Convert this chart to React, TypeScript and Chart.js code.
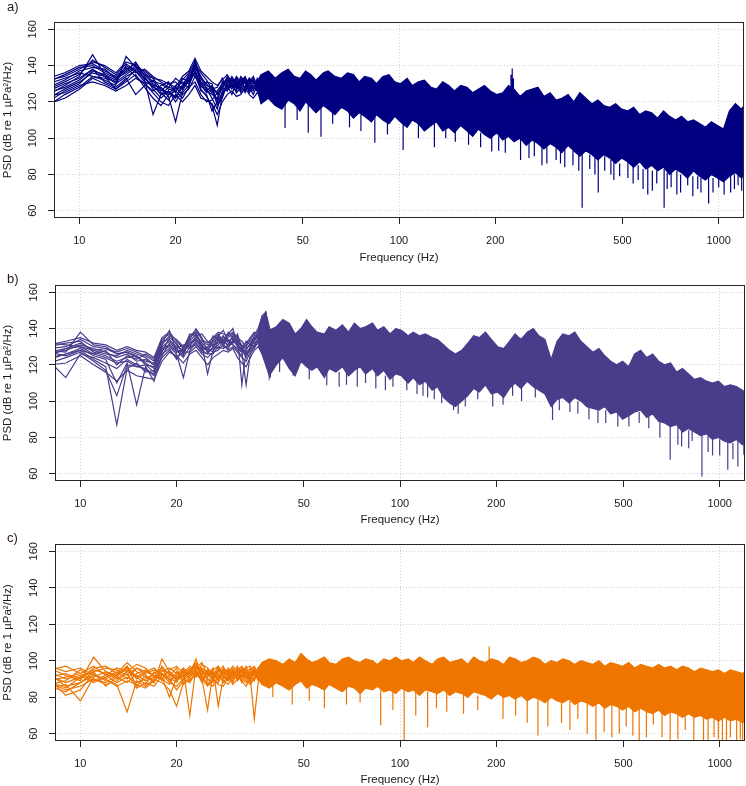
import React, { useEffect, useRef } from "react";
import { Chart, registerables } from "chart.js";
Chart.register(...registerables);

// ---------- axes ----------
const xTicks = [10, 20, 50, 100, 200, 500, 1000];
const xGridValues = [10, 100, 1000];
const yTicks = [60, 80, 100, 120, 140, 160];

// ---------- low-frequency individual spectra (Hz) ----------
const lowFreq = [8, 9, 10, 11, 12, 13, 14, 15, 16, 17, 18, 19, 20, 21, 22, 23, 24, 25, 26, 27, 28, 29, 30, 31, 32, 33, 34, 35, 36, 37, 38, 39, 40];

const aLow = [
  [131, 135, 139, 140, 136, 133, 138, 141, 136, 131, 130, 127, 126, 129, 132, 140, 131, 128, 125, 126, 130, 133, 129, 134, 131, 128, 133, 130, 132, 129, 134, 131, 128],
  [124, 129, 134, 146, 135, 130, 134, 137, 133, 128, 126, 130, 131, 127, 133, 136, 129, 125, 127, 121, 128, 131, 132, 127, 130, 133, 129, 127, 131, 133, 128, 126, 132],
  [118, 124, 128, 134, 132, 129, 145, 139, 133, 129, 124, 128, 127, 131, 130, 143, 133, 127, 122, 116, 126, 129, 134, 130, 128, 126, 131, 134, 129, 127, 131, 133, 127],
  [128, 132, 137, 139, 138, 133, 136, 140, 132, 113, 124, 126, 122, 128, 134, 138, 127, 123, 118, 107, 124, 128, 131, 132, 126, 129, 132, 128, 127, 131, 126, 129, 133],
  [122, 127, 131, 136, 134, 127, 132, 138, 135, 130, 127, 123, 109, 125, 129, 137, 130, 126, 124, 122, 131, 127, 129, 126, 133, 130, 127, 131, 128, 125, 130, 134, 129],
  [133, 136, 140, 141, 137, 134, 139, 134, 130, 126, 129, 131, 125, 133, 131, 139, 134, 129, 128, 125, 127, 134, 130, 129, 131, 134, 128, 126, 133, 130, 127, 132, 135],
  [126, 130, 133, 138, 131, 128, 133, 124, 129, 132, 125, 121, 128, 124, 127, 134, 128, 131, 130, 118, 122, 130, 127, 133, 129, 125, 130, 132, 126, 128, 133, 127, 130],
  [130, 133, 136, 134, 133, 131, 140, 136, 138, 134, 131, 128, 133, 130, 128, 141, 136, 132, 127, 128, 133, 126, 132, 128, 134, 131, 126, 129, 130, 134, 129, 131, 126],
  [120, 126, 130, 137, 135, 132, 137, 142, 134, 127, 122, 126, 120, 126, 132, 135, 126, 124, 115, 120, 125, 129, 124, 131, 127, 132, 128, 124, 129, 126, 132, 128, 131],
  [127, 131, 135, 143, 139, 135, 141, 137, 131, 129, 128, 124, 129, 132, 136, 142, 130, 126, 129, 124, 129, 132, 128, 130, 125, 127, 133, 131, 127, 132, 128, 130, 134],
  [125, 128, 132, 138, 134, 131, 135, 139, 137, 133, 127, 125, 123, 129, 135, 140, 133, 130, 126, 119, 123, 131, 133, 129, 132, 127, 130, 133, 129, 132, 127, 131, 129],
  [119, 122, 127, 133, 130, 127, 131, 135, 128, 122, 118, 124, 126, 122, 128, 131, 124, 120, 121, 125, 128, 126, 130, 125, 128, 131, 125, 128, 126, 130, 131, 125, 128],
  [132, 134, 138, 142, 140, 136, 142, 140, 135, 133, 132, 130, 128, 134, 137, 144, 137, 134, 131, 129, 132, 135, 131, 133, 129, 133, 131, 127, 131, 128, 130, 133, 130],
  [123, 125, 129, 131, 129, 126, 129, 133, 130, 125, 120, 118, 124, 120, 124, 129, 122, 121, 119, 113, 120, 124, 126, 123, 124, 128, 124, 122, 125, 123, 126, 124, 127],
];

const bLow = [
  [126, 128, 131, 129, 127, 124, 126, 122, 123, 120, 130, 133, 130, 128, 131, 134, 130, 128, 132, 135, 131, 129, 134, 130, 127, 131, 133, 135, 138, 144, 149, 141, 133],
  [130, 132, 133, 127, 125, 122, 124, 125, 121, 118, 127, 135, 132, 126, 133, 137, 132, 129, 127, 133, 136, 132, 131, 128, 125, 129, 131, 136, 140, 146, 148, 132, 129],
  [122, 113, 126, 124, 121, 118, 123, 120, 117, 115, 129, 131, 128, 124, 130, 131, 128, 126, 130, 129, 133, 135, 137, 133, 130, 126, 128, 131, 134, 141, 147, 127, 124],
  [128, 127, 138, 131, 130, 126, 127, 124, 122, 121, 132, 139, 127, 129, 134, 140, 135, 127, 129, 134, 130, 137, 140, 131, 129, 124, 129, 133, 136, 143, 146, 138, 131],
  [124, 126, 129, 125, 123, 110, 121, 98, 119, 111, 126, 129, 123, 130, 129, 133, 131, 115, 128, 131, 134, 130, 133, 136, 109, 128, 132, 130, 135, 139, 145, 124, 127],
  [132, 131, 130, 126, 128, 120, 125, 123, 126, 123, 134, 137, 131, 127, 132, 135, 133, 131, 133, 136, 132, 134, 131, 129, 127, 109, 126, 129, 133, 140, 144, 130, 128],
  [127, 125, 128, 123, 119, 87, 118, 121, 116, 117, 128, 130, 126, 113, 128, 132, 127, 126, 126, 130, 129, 131, 136, 132, 128, 125, 130, 134, 137, 145, 148, 113, 121],
  [125, 129, 132, 128, 126, 125, 128, 126, 124, 120, 131, 136, 134, 130, 135, 138, 129, 130, 131, 132, 135, 133, 132, 134, 131, 129, 131, 132, 134, 138, 143, 135, 130],
  [121, 124, 127, 122, 117, 103, 120, 119, 118, 114, 124, 128, 124, 127, 127, 130, 126, 124, 127, 128, 131, 128, 130, 127, 124, 122, 127, 130, 132, 136, 142, 122, 125],
  [129, 130, 134, 130, 129, 127, 129, 127, 125, 122, 133, 134, 129, 125, 136, 139, 134, 132, 135, 138, 137, 136, 138, 135, 133, 130, 134, 137, 139, 147, 149, 136, 132],
  [123, 126, 128, 126, 124, 121, 122, 119, 120, 116, 125, 132, 129, 131, 130, 136, 131, 127, 134, 137, 133, 131, 132, 137, 129, 127, 129, 134, 137, 142, 147, 134, 130],
  [131, 133, 135, 132, 131, 128, 130, 128, 127, 124, 135, 138, 133, 129, 137, 136, 137, 133, 130, 136, 139, 133, 135, 133, 130, 132, 135, 138, 136, 143, 148, 139, 134],
  [120, 121, 125, 120, 116, 111, 117, 114, 113, 112, 122, 127, 125, 121, 126, 128, 124, 120, 124, 126, 128, 127, 129, 124, 121, 119, 124, 128, 130, 135, 141, 118, 123],
  [127, 129, 130, 128, 129, 126, 127, 125, 120, 119, 129, 131, 127, 128, 132, 134, 128, 129, 136, 134, 132, 138, 134, 131, 128, 133, 131, 135, 135, 141, 146, 133, 129],
];

const cLow = [
  [92, 88, 91, 95, 93, 90, 94, 92, 89, 91, 95, 93, 90, 94, 92, 96, 93, 91, 94, 90, 93, 95, 92, 94, 91, 93, 96, 92, 94, 91, 95, 93, 96],
  [96, 92, 89, 102, 94, 91, 88, 93, 95, 92, 90, 87, 94, 91, 96, 93, 89, 95, 92, 97, 90, 93, 96, 91, 94, 92, 89, 93, 96, 94, 92, 97, 93],
  [88, 84, 86, 90, 87, 89, 93, 85, 88, 86, 92, 90, 84, 89, 93, 101, 91, 88, 86, 92, 89, 87, 91, 95, 89, 86, 91, 94, 90, 93, 96, 90, 92],
  [94, 90, 92, 88, 91, 94, 90, 96, 92, 88, 101, 94, 89, 92, 95, 91, 96, 93, 90, 88, 94, 91, 89, 93, 96, 92, 88, 91, 93, 96, 90, 94, 91],
  [90, 81, 84, 93, 89, 87, 72, 89, 86, 90, 88, 84, 75, 88, 91, 94, 92, 87, 91, 93, 88, 92, 94, 89, 92, 95, 91, 68, 88, 92, 94, 89, 95],
  [85, 87, 78, 91, 94, 92, 96, 90, 93, 95, 93, 91, 88, 95, 70, 97, 94, 90, 88, 96, 92, 89, 93, 97, 90, 88, 93, 96, 91, 89, 93, 96, 90],
  [97, 94, 96, 92, 90, 93, 99, 94, 91, 89, 94, 96, 93, 90, 94, 99, 90, 73, 94, 91, 96, 94, 90, 92, 95, 91, 94, 89, 95, 93, 91, 95, 92],
  [89, 91, 93, 97, 92, 88, 91, 88, 90, 93, 96, 89, 92, 96, 89, 93, 95, 92, 96, 75, 91, 96, 93, 90, 93, 97, 90, 94, 89, 95, 93, 91, 94],
  [93, 86, 88, 94, 96, 95, 92, 96, 94, 92, 91, 80, 91, 93, 97, 95, 88, 94, 89, 94, 97, 90, 95, 93, 88, 94, 92, 95, 92, 90, 96, 92, 89],
  [87, 89, 95, 90, 88, 92, 97, 91, 87, 94, 89, 92, 96, 87, 90, 92, 98, 96, 93, 89, 95, 93, 88, 96, 94, 90, 95, 97, 93, 94, 89, 93, 97],
  [91, 93, 90, 96, 97, 93, 95, 91, 94, 96, 92, 94, 91, 92, 94, 97, 92, 95, 91, 94, 95, 92, 91, 95, 97, 93, 90, 95, 91, 96, 94, 90, 93],
  [86, 83, 88, 92, 90, 86, 89, 87, 85, 89, 93, 88, 86, 90, 88, 94, 90, 86, 90, 87, 86, 91, 87, 90, 92, 89, 87, 90, 92, 88, 91, 94, 90],
  [95, 97, 93, 89, 92, 96, 94, 98, 96, 91, 90, 95, 97, 93, 91, 96, 99, 92, 95, 97, 93, 94, 97, 94, 91, 96, 97, 93, 96, 92, 97, 91, 95],
  [89, 85, 91, 94, 86, 91, 97, 86, 92, 88, 97, 92, 90, 96, 93, 98, 95, 89, 92, 95, 91, 89, 94, 92, 96, 91, 93, 92, 90, 94, 92, 96, 91],
];

// ---------- dense band: upper / lower envelope (Hz, dB) ----------
const envFreq = [36, 37, 39, 41, 43, 45, 47, 49, 51, 53, 55, 58, 60, 63, 66, 69, 72, 75, 78, 82, 85, 89, 93, 97, 101, 106, 110, 115, 120, 126, 131, 137, 143, 149, 156, 163, 170, 177, 185, 193, 202, 211, 220, 229, 239, 250, 261, 272, 284, 297, 310, 323, 338, 352, 368, 384, 401, 419, 437, 456, 476, 497, 519, 542, 566, 591, 617, 644, 672, 702, 733, 765, 799, 834, 871, 909, 949, 991, 1035, 1080, 1128, 1178, 1200];

const aHigh = [131, 135, 137, 133, 136, 138, 134, 133, 137, 135, 132, 136, 137, 134, 133, 136, 135, 131, 134, 133, 130, 134, 135, 131, 130, 133, 129, 131, 132, 128, 127, 131, 129, 126, 129, 128, 125, 127, 129, 126, 124, 125, 129, 127, 123, 126, 127, 128, 123, 125, 121, 122, 124, 120, 125, 122, 119, 121, 118, 117, 119, 116, 115, 117, 113, 115, 114, 111, 115, 112, 110, 112, 109, 110, 108, 106, 109, 107, 105, 115, 119, 116, 118];
const aLowEdge = [127, 119, 122, 118, 116, 121, 119, 115, 120, 117, 114, 118, 116, 113, 117, 115, 111, 114, 112, 109, 113, 110, 108, 112, 109, 106, 110, 108, 104, 107, 109, 104, 106, 103, 107, 104, 101, 105, 102, 100, 103, 99, 101, 98, 100, 96, 99, 97, 94, 97, 95, 92, 96, 93, 90, 93, 91, 88, 91, 89, 86, 89, 87, 84, 87, 83, 85, 82, 84, 80, 83, 81, 78, 82, 79, 77, 80, 78, 76, 79, 81, 78, 80];

const bHigh = [136, 146, 139, 141, 145, 143, 137, 140, 145, 141, 138, 137, 141, 139, 142, 138, 143, 140, 141, 143, 139, 141, 137, 140, 139, 136, 138, 136, 137, 135, 134, 131, 128, 126, 128, 132, 136, 135, 138, 134, 130, 129, 133, 137, 134, 138, 140, 136, 134, 123, 133, 137, 136, 138, 133, 130, 127, 129, 125, 122, 120, 122, 119, 126, 128, 124, 126, 122, 120, 121, 116, 118, 115, 112, 113, 111, 110, 111, 108, 109, 108, 106, 105];
const bLowEdge = [130, 126, 114, 120, 124, 118, 114, 122, 119, 117, 119, 113, 118, 116, 119, 114, 117, 119, 115, 118, 114, 117, 112, 115, 114, 110, 113, 109, 111, 106, 108, 102, 99, 97, 100, 103, 107, 105, 109, 104, 105, 102, 107, 110, 107, 111, 108, 106, 104, 97, 101, 102, 99, 102, 100, 97, 96, 95, 97, 93, 94, 90, 92, 94, 95, 91, 93, 89, 88, 86, 87, 83, 85, 83, 81, 82, 79, 80, 78, 77, 79, 76, 77];

const cHigh = [96, 99, 101, 100, 98, 101, 99, 104, 101, 99, 100, 102, 99, 98, 101, 102, 100, 99, 101, 100, 98, 101, 100, 102, 100, 101, 99, 102, 100, 98, 101, 102, 99, 100, 101, 98, 102, 100, 99, 101, 100, 98, 102, 101, 99, 100, 102, 101, 98, 100, 99, 101, 100, 98, 100, 99, 98, 100, 97, 99, 98, 97, 99, 96, 98, 97, 96, 98, 96, 97, 95, 97, 96, 94, 96, 95, 94, 95, 93, 95, 94, 93, 94];
const cLowEdge = [90, 87, 85, 88, 86, 84, 87, 89, 85, 87, 86, 84, 87, 85, 83, 86, 85, 82, 85, 84, 86, 83, 84, 82, 85, 83, 84, 81, 84, 83, 82, 84, 81, 83, 82, 80, 83, 82, 81, 79, 82, 80, 81, 79, 81, 78, 80, 79, 77, 80, 78, 77, 79, 76, 78, 77, 75, 77, 74, 76, 75, 73, 75, 72, 74, 72, 71, 73, 70, 72, 71, 69, 71, 69, 70, 68, 69, 67, 69, 67, 68, 66, 67];

// ---------- narrow spikes (Hz, bottom dB, top dB) ----------
const aSpikeFreq = [44, 48, 52, 57, 62, 70, 76, 84, 92, 103, 115, 129, 140, 150, 165, 180, 195, 205, 215, 224, 226, 228, 240, 255, 265, 280, 290, 310, 320, 330, 350, 365, 374, 395, 410, 420, 440, 460, 470, 490, 520, 540, 560, 580, 600, 620, 640, 675, 690, 710, 740, 760, 800, 830, 860, 880, 930, 960, 1000, 1040, 1090, 1120, 1150, 1180];
const aSpikeLow = [105.6, 110, 103, 100.8, 108, 106, 104, 97.4, 102, 93.5, 100, 95, 100, 98, 96.3, 95, 92.6, 93, 92, 123, 124, 123, 88, 89, 90, 85, 86, 88, 86, 84, 85, 82, 61.6, 83, 80, 70, 82, 80, 77, 79, 78, 75, 77, 72, 69, 71, 75, 61.6, 72, 73, 69, 70, 74, 68, 72, 70, 64, 70, 73, 69, 70, 72, 74, 71];
const aSpikeHigh = [121, 120, 119, 117, 117, 115, 113, 113, 110, 111, 108, 108, 108, 105, 104, 103, 102, 101, 100, 135, 138.4, 133, 101, 98, 99, 95, 97, 96, 94, 94, 93, 92, 92, 91, 90, 89, 90, 88, 87, 86, 87, 85, 85, 83, 84, 82, 82, 83, 81, 81, 82, 80, 81, 79, 79, 78, 79, 78, 79, 79, 80, 80, 81, 80];

const bSpikeFreq = [38, 39.3, 42, 46.3, 52, 59, 64.5, 68, 73.5, 78, 84, 90, 95, 105, 113, 118, 122, 128, 135, 147, 152, 160, 175, 195, 210, 225, 240, 265, 300, 315, 340, 360, 390, 416, 440, 480, 520, 560, 600, 650, 700, 740, 760, 800, 820, 880, 920, 950, 1000, 1060, 1100, 1140, 1190];
const bSpikeLow = [136, 113, 116, 114, 112, 108.8, 108, 109, 108, 110, 107, 106, 108, 106, 104, 103, 102, 101, 99, 95, 93, 97, 101, 97, 98, 103, 100, 102, 89.6, 95, 94, 93, 90, 88, 88, 86, 86, 88, 85, 80, 67.7, 76, 75, 74, 78, 58.5, 72, 70, 70, 62.2, 68, 64, 70.4];
const bSpikeHigh = [149.5, 124, 124, 120, 119, 117, 116, 117, 118, 117, 116, 114, 114, 113, 112, 110, 110, 108, 106, 100, 100, 103, 107, 104, 104, 109, 108, 108, 100, 102, 101, 100, 97, 96, 95, 93, 92, 94, 92, 89, 87, 86, 85, 84, 84, 82, 81, 80, 79, 79, 77, 78, 77];

const cSpikeFreq = [40, 46, 52, 58, 68, 75, 87, 95, 103, 112, 122, 130, 140, 158, 175, 190, 210, 230, 250, 270, 290, 320, 340, 360, 385, 410, 435, 460, 485, 510, 535, 560, 590, 620, 660, 700, 740, 780, 830, 890, 920, 960, 990, 1020, 1050, 1080, 1130, 1160, 1180];
const cSpikeLow = [80, 76, 78, 74, 76, 77, 64.6, 73, 55, 70, 63.6, 74, 72, 71, 73, 99, 68, 70, 66, 59, 64, 66, 62, 68, 60, 55, 61, 58, 60, 64, 59, 55, 58, 65, 58, 55, 57, 62, 56, 55, 55, 58, 57, 55, 55, 58, 55, 57, 55];
const cSpikeHigh = [88, 86, 86, 85, 85, 84, 84, 83, 84, 83, 83, 83, 83, 82, 81, 107.8, 80, 80, 79, 80, 79, 79, 78, 78, 77, 78, 76, 77, 75, 76, 75, 75, 73, 74, 72, 72, 71, 71, 70, 70, 69, 70, 68, 69, 68, 68, 69, 67, 68];

const FONT = "'Liberation Sans', Arial, Helvetica, sans-serif";
const W = 746;
const TITLE_SIZE = 11.5;
const TITLE_LH = TITLE_SIZE * 1.2;

type PanelProps = {
  label: string;
  color: string;
  low: number[][];
  high: number[];
  lowEdge: number[];
  spikeFreq: number[];
  spikeLow: number[];
  spikeHigh: number[];
  height: number;
  top: number;
  left: number;
  right: number;
  bottom: number;
  titleY: number;
  labelY: number;
};

const rPlugin = {
  id: "rbox",
  afterDraw(chart: any, _args: any, opts: any) {
    const { ctx, chartArea: a } = chart;
    ctx.save();
    ctx.strokeStyle = "#262626";
    ctx.lineWidth = 1;
    ctx.strokeRect(
      Math.round(a.left) + 0.5,
      Math.round(a.top) + 0.5,
      Math.round(a.right - a.left) - 1,
      Math.round(a.bottom - a.top) - 1
    );
    // rotated y tick labels (R style, parallel to the axis)
    const ys = chart.scales.y;
    ctx.fillStyle = "#1a1a1a";
    ctx.font = `11px ${FONT}`;
    ctx.textAlign = "center";
    ctx.textBaseline = "middle";
    yTicks.forEach((v) => {
      const py = ys.getPixelForValue(v);
      ctx.save();
      ctx.translate(a.left - 21, py);
      ctx.rotate(-Math.PI / 2);
      ctx.fillText(String(v), 0, 0);
      ctx.restore();
    });
    if (opts && opts.text) {
      ctx.fillStyle = "#2a1616";
      ctx.font = `13px ${FONT}`;
      ctx.textBaseline = "middle";
      ctx.textAlign = "left";
      ctx.fillText(opts.text, 7, opts.y);
    }
    ctx.restore();
  },
};

function Panel(p: PanelProps) {
  const ref = useRef<HTMLCanvasElement>(null);
  useEffect(() => {
    const canvas = ref.current;
    if (!canvas) return;
    const base = {
      borderColor: p.color,
      borderWidth: 1.2,
      pointRadius: 0,
      tension: 0,
    };
    const datasets: any[] = [];
    datasets.push({
      ...base,
      data: envFreq.map((f, i) => ({ x: f, y: p.high[i] })),
      fill: "+1",
      backgroundColor: p.color,
    });
    datasets.push({
      ...base,
      data: envFreq.map((f, i) => ({ x: f, y: p.lowEdge[i] })),
      fill: false,
    });
    p.low.forEach((line) => {
      datasets.push({
        ...base,
        data: lowFreq.map((f, i) => ({ x: f, y: line[i] })),
        fill: false,
      });
    });
    const spikes: any[] = [];
    p.spikeFreq.forEach((f, i) => {
      spikes.push({ x: f, y: p.spikeHigh[i] });
      spikes.push({ x: f, y: p.spikeLow[i] });
      spikes.push({ x: f, y: null });
    });
    datasets.push({ ...base, data: spikes, fill: false, spanGaps: false });

    const tickFont = { family: FONT, size: 11 };
    const titleFont = { family: FONT, size: TITLE_SIZE, lineHeight: 1.2 };
    const titlePadBottom = p.height - TITLE_LH / 2 - p.titleY;

    const chart = new Chart(canvas, {
      type: "line",
      data: { datasets },
      plugins: [rPlugin],
      options: {
        responsive: false,
        animation: false,
        devicePixelRatio: 1,
        events: [],
        layout: { padding: { left: 0, right: W - p.right, top: p.top, bottom: 0 } },
        plugins: {
          legend: { display: false },
          tooltip: { enabled: false },
          title: { display: false },
          rbox: { text: p.label, y: p.labelY },
        } as any,
        scales: {
          x: {
            type: "logarithmic",
            min: 8.33,
            max: 1200,
            bounds: "data",
            afterBuildTicks: (s: any) => {
              s.ticks = xTicks.map((v) => ({ value: v }));
            },
            afterFit: (s: any) => {
              s.height = p.height - p.bottom;
            },
            ticks: {
              autoSkip: false,
              maxRotation: 0,
              minRotation: 0,
              padding: 10,
              color: "#1a1a1a",
              font: tickFont,
              callback: (v: any) => String(v),
            },
            grid: {
              color: (ctx: any) =>
                ctx.tick && xGridValues.includes(ctx.tick.value) ? "#d0d0d0" : "rgba(0,0,0,0)",
              tickColor: "#262626",
              tickLength: 6,
              lineWidth: 1,
              tickBorderDash: [],
            },
            border: { display: false, dash: [1, 2] },
            title: {
              display: true,
              text: "Frequency (Hz)",
              color: "#1a1a1a",
              font: titleFont,
              padding: { top: 0, bottom: titlePadBottom },
            },
          },
          y: {
            type: "linear",
            min: 56,
            max: 164,
            bounds: "data",
            afterBuildTicks: (s: any) => {
              s.ticks = yTicks.map((v) => ({ value: v }));
            },
            afterFit: (s: any) => {
              s.width = p.left;
            },
            ticks: { display: false, autoSkip: false },
            grid: {
              color: "#d0d0d0",
              tickColor: "#262626",
              tickLength: 6,
              lineWidth: 1,
              tickBorderDash: [],
            },
            border: { display: false, dash: [1, 2] },
            title: {
              display: true,
              text: "PSD (dB re 1 µPa²/Hz)",
              color: "#1a1a1a",
              font: titleFont,
              padding: { top: 1, bottom: 0 },
            },
          },
        } as any,
      } as any,
    });
    return () => chart.destroy();
  }, []);
  return (
    <canvas
      ref={ref}
      width={W}
      height={p.height}
      style={{ display: "block", width: W, height: p.height }}
    />
  );
}

export default function App() {
  useEffect(() => {
    document.body.style.margin = "0";
    document.body.style.background = "#ffffff";
  }, []);
  return (
    <div style={{ width: W, background: "#fff" }}>
      <Panel label="a)" color="#000080" low={aLow} high={aHigh} lowEdge={aLowEdge}
        spikeFreq={aSpikeFreq} spikeLow={aSpikeLow} spikeHigh={aSpikeHigh}
        height={266} top={22} left={54} right={744} bottom={218} titleY={257.5} labelY={7} />
      <Panel label="b)" color="#483D8B" low={bLow} high={bHigh} lowEdge={bLowEdge}
        spikeFreq={bSpikeFreq} spikeLow={bSpikeLow} spikeHigh={bSpikeHigh}
        height={262} top={19} left={55} right={745} bottom={215} titleY={254} labelY={13} />
      <Panel label="c)" color="#EE7600" low={cLow} high={cHigh} lowEdge={cLowEdge}
        spikeFreq={cSpikeFreq} spikeLow={cSpikeLow} spikeHigh={cSpikeHigh}
        height={258} top={16} left={55} right={745} bottom={213} titleY={252} labelY={10} />
    </div>
  );
}
